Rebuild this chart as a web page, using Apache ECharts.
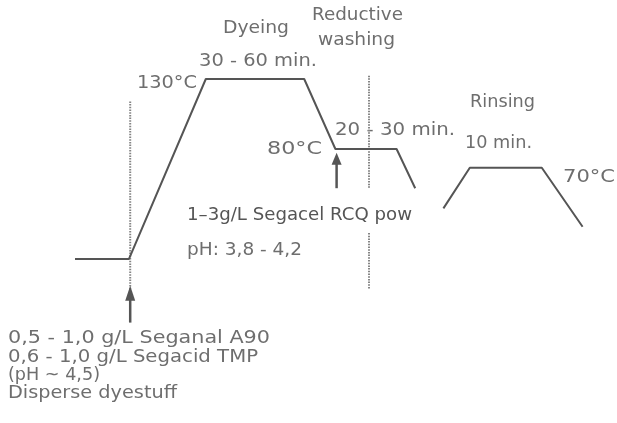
<!DOCTYPE html>
<html>
<head>
<meta charset="utf-8">
<script src="https://cdn.jsdelivr.net/npm/echarts@6/dist/echarts.min.js"></script>
<style>
  html, body { margin: 0; background: #fff; }
  #chart { width: 617px; height: 423px; }
</style>
</head>
<body>
<div id="chart"></div>
<script>
(function () {
  "use strict";

  // temperature profile: [schematic time, °C]
  const dyeingProfile = [[0, 1.5], [9, 1.5], [21.8, 130], [38.2, 130], [43.4, 80], [53.6, 80], [56.7, 52]];
  const rinsingProfile = [[61.4, 37.6], [65.8, 66.6], [77.8, 66.6], [84.6, 24.5]];
  // dotted phase separators
  const sepDyeing = [[9.2, 114], [9.2, -20]];
  const sepWashTop = [[49, 132.4], [49, 52]];
  const sepWashBottom = [[49, 20], [49, -20]];
  // dosing arrows (tail, head)
  const arrowDye = [[9.2, -44], [9.2, -23]];
  const arrowWash = [[43.6, 52], [43.6, 73]];

  // annotation texts and their boxes [left, middle y, width]
  const labelTexts = [
    "Dyeing", "30 - 60 min.", "130°C", "Reductive", "washing", "80°C",
    "20 - 30 min.", "Rinsing", "10 min.", "70°C", "pH: 3,8 - 4,2",
    "0,5 - 1,0 g/L Seganal A90", "0,6 - 1,0 g/L Segacid TMP", "(pH ~ 4,5)", "Disperse dyestuff",
  ];
  const labelBoxes = [
    [223, 28, 66], [199, 61, 118], [137, 83, 60], [312, 15, 91], [318, 40, 77], [267, 149, 55],
    [335, 130, 120], [470, 102, 65], [465, 143, 67], [563, 177, 52], [187, 250, 115],
    [8, 338, 262], [8, 357, 250], [8, 375, 92], [8, 393, 169],
  ];
  const noteText = "1–3g/L Segacel RCQ pow";
  const noteBox = [187, 215, 225];

  const COLORS = { line: "#555", sep: "#858585", text: "#6e6e6e", note: "#555" };
  const FONT = '18px "DejaVu Sans"';
  const NOTE_FONT = '18px "DejaVu Sans"';

  const ctx = document.createElement("canvas").getContext("2d");
  function fitScale(text, font, w) {
    ctx.font = font;
    return w / ctx.measureText(text).width;
  }
  function textEl(text, box, font, fill) {
    return {
      type: "text", x: box[0], y: box[1], scaleX: fitScale(text, font, box[2]),
      style: { text, font, fill, align: "left", verticalAlign: "middle" },
    };
  }

  function profile(data) {
    return { type: "line", data, symbol: "none", clip: false, lineStyle: { color: COLORS.line, width: 2 } };
  }
  function sep(data) {
    return { type: "line", data, symbol: "none", clip: false, lineStyle: { color: COLORS.sep, width: 2, type: [1.5, 1.2] } };
  }
  function arrow(data, size) {
    return {
      type: "line", clip: false, showSymbol: true, symbol: "none",
      data: [data[0], { value: data[1], symbol: "triangle", symbolSize: size }],
      itemStyle: { color: COLORS.line }, lineStyle: { color: COLORS.line, width: 2.5 },
    };
  }

  const chart = echarts.init(document.getElementById("chart"));
  chart.setOption({
    animation: false,
    grid: { left: 75, top: 65, width: 510, height: 336 },
    xAxis: { type: "value", min: 0, max: 85, show: false },
    yAxis: { type: "value", min: -100, max: 140, show: false },
    series: [
      sep(sepDyeing), sep(sepWashTop), sep(sepWashBottom),
      profile(dyeingProfile), profile(rinsingProfile),
      arrow(arrowDye, [10, 15]), arrow(arrowWash, [10, 12]),
    ],
    graphic: labelTexts.map((t, i) => textEl(t, labelBoxes[i], FONT, COLORS.text))
      .concat([textEl(noteText, noteBox, NOTE_FONT, COLORS.note)]),
  });
})();
</script>
</body>
</html>
